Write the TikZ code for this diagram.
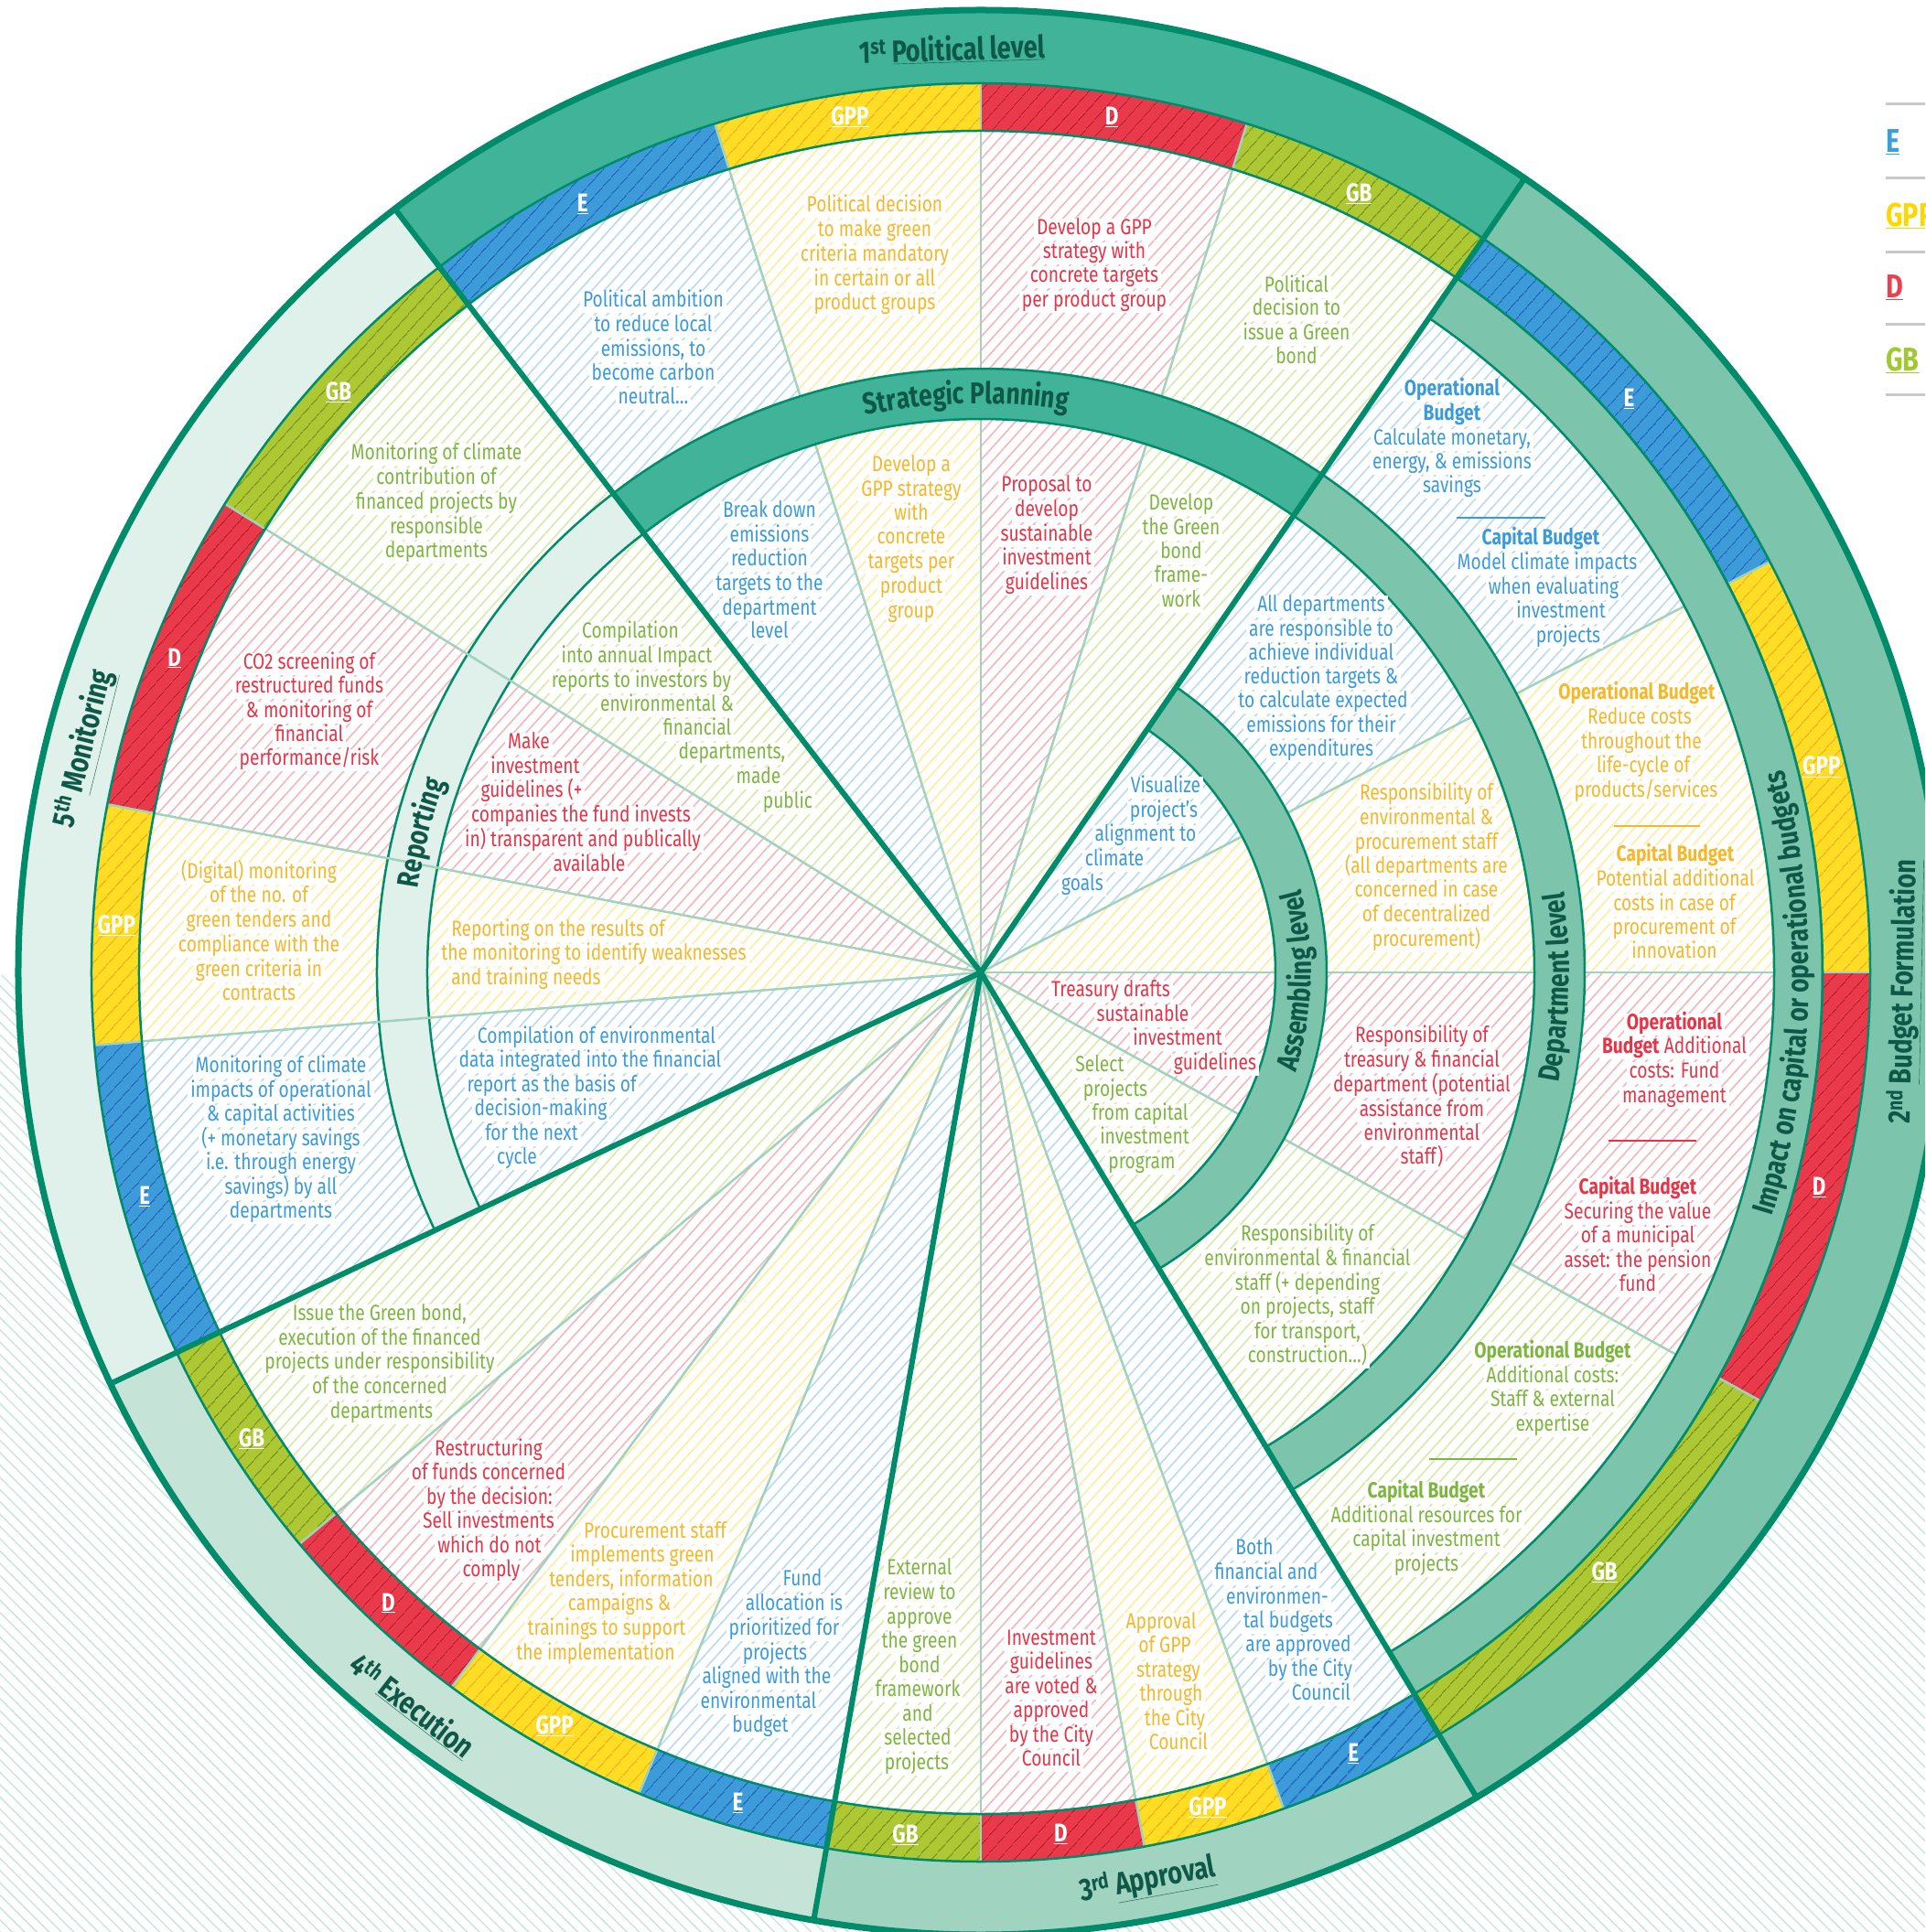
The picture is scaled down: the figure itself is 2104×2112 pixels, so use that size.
\documentclass[tikz,border=0pt]{standalone}
\usepackage{fontspec}
\setmainfont[FakeStretch=0.8]{Fira Sans}
\usetikzlibrary{patterns.meta,decorations.text}
\definecolor{tealdark}{RGB}{0,140,106}
\definecolor{titlec}{RGB}{14,88,72}
\definecolor{polband}{RGB}{64,179,152}
\definecolor{budband}{RGB}{124,196,171}
\definecolor{appband}{RGB}{160,211,192}
\definecolor{exeband}{RGB}{198,227,215}
\definecolor{monband}{RGB}{224,240,234}
\definecolor{thinl}{RGB}{160,210,190}
\definecolor{bgh}{RGB}{200,230,220}
\definecolor{ringE}{RGB}{61,155,217}
\definecolor{lineE}{RGB}{25,95,185}
\definecolor{ringG}{RGB}{255,221,36}
\definecolor{lineG}{RGB}{235,170,20}
\definecolor{ringD}{RGB}{232,58,74}
\definecolor{lineD}{RGB}{190,20,40}
\definecolor{ringB}{RGB}{173,200,50}
\definecolor{lineB}{RGB}{110,140,20}
\definecolor{hE}{RGB}{185,218,240}
\definecolor{hG}{RGB}{255,236,160}
\definecolor{hD}{RGB}{244,182,188}
\definecolor{hB}{RGB}{218,232,170}
\definecolor{tE}{RGB}{58,155,220}
\definecolor{tG}{RGB}{246,183,40}
\definecolor{tD}{RGB}{230,52,72}
\definecolor{tB}{RGB}{125,182,62}
\definecolor{lE}{RGB}{58,160,220}
\definecolor{lG}{RGB}{255,215,0}
\definecolor{lD}{RGB}{232,65,80}
\definecolor{lB}{RGB}{160,200,50}
\definecolor{legline}{RGB}{200,200,200}
\newcommand\annsec[4]{(#1:#3) arc[start angle=#1,end angle=#2,radius=#3] -- (#2:#4) arc[start angle=#2,end angle=#1,radius=#4] -- cycle}
\newcommand\wdg[2]{(0,0) -- (#1:920pt) arc[start angle=#1,end angle=#2,radius=920pt] -- cycle}
\newcommand\ringfnt{\fontsize{33}{33}\selectfont\bfseries}
\newcommand\arclabel[4]{\path[decorate,decoration={text along path,text align=center,text color=titlec,text={|\ringfnt|#4}}] (#2:#1) arc[start angle=#2,end angle=#3,radius=#1];}
\newcommand\blk[3]{\foreach[count=\i] \x/\y/\t in {#3} {\node[body,text=#2] (#1-\i) at (\x,\y) {\t};}}
\tikzset{
  body/.style={font=\fontsize{24}{26.5}\selectfont, fill=white, inner xsep=3pt, inner ysep=1.5pt, text height=16.5pt, text depth=5pt},
  ttl/.style={font=\fontsize{34}{36}\selectfont\bfseries, text=titlec, inner sep=0pt},
  seglbl/.style={font=\fontsize{28}{30}\selectfont\bfseries, text=white, inner sep=0pt},
  leg/.style={font=\fontsize{36}{38}\selectfont\bfseries, inner sep=0pt, anchor=west},
  subline/.style={draw=thinl, line width=2.5pt},
  stageline/.style={draw=tealdark, line width=6pt},
  ringline/.style={draw=tealdark, line width=2.5pt},
  lighthatch/.style={pattern={Lines[angle=48,distance=10pt,line width=1.6pt]}, pattern color=#1},
  darkhatch/.style={pattern={Lines[angle=48,distance=13pt,line width=1.4pt]}, pattern color=#1},
}
\begin{document}
\begin{tikzpicture}[x=1pt,y=1pt]
\useasboundingbox (-1072,-1049) rectangle (1032,1063);
\clip (-1072,-1049) rectangle (1032,1063);
% background hatch (lower half)
\fill[pattern={Lines[angle=-45,distance=9.5pt,line width=1.5pt]}, pattern color=bgh] (-1072,-1049) rectangle (1032,-3);
\fill[white] (0,0) circle[radius=1052pt];
% light hatched sub-sectors
\foreach \a/\b/\c in {55.6/72.6/hB, 72.6/90/hD, 90/107.4/hG, 107.4/127.5/hE,
  127.5/148.2/hB, 148.2/169.1/hD, 169.1/184.7/hG, 184.7/205.3/hE,
  205.3/220/hB, 220/233.5/hD, 233.5/247.4/hG, 247.4/260/hE,
  260/270/hB, 270/280.6/hD, 280.6/289.9/hG, 289.9/301/hE,
  -59/-28.8/hB, -28.8/0/hD, 0/27.5/hG, 27.5/55.6/hE}
  {\fill[lighthatch=\c] \wdg{\a}{\b};}
% reporting ring (lines cross it)
\path[fill=monband, ringline] \annsec{127.5}{205.3}{605pt}{660pt};
% thin sub-sector lines
\foreach \a in {72.6,90,107.4,148.2,169.1,184.7,220,233.5,247.4,270,280.6,289.9,-28.8,0,27.5}
  {\draw[subline] (0,0) -- (\a:920pt);}
% inner rings
\path[fill=polband, ringline] \annsec{55.6}{127.5}{605pt}{660pt};
\path[fill=budband, ringline] \annsec{-59}{55.6}{605pt}{660pt};
\path[fill=budband, ringline] \annsec{-59}{55.6}{322pt}{378pt};
\path[fill=budband, ringline] \annsec{-59}{55.6}{867pt}{920pt};
% colour ring
\foreach \a/\b/\f/\h in {55.6/72.6/ringB/lineB, 72.6/90/ringD/lineD, 90/107.4/ringG/lineG, 107.4/127.5/ringE/lineE,
  127.5/148.2/ringB/lineB, 148.2/169.1/ringD/lineD, 169.1/184.7/ringG/lineG, 184.7/205.3/ringE/lineE,
  205.3/220/ringB/lineB, 220/233.5/ringD/lineD, 233.5/247.4/ringG/lineG, 247.4/260/ringE/lineE,
  260/270/ringB/lineB, 270/280.6/ringD/lineD, 280.6/289.9/ringG/lineG, 289.9/301/ringE/lineE,
  -59/-28.8/ringB/lineB, -28.8/0/ringD/lineD, 0/27.5/ringG/lineG, 27.5/55.6/ringE/lineE}
  {\fill[\f] \annsec{\a}{\b}{920pt}{972pt};
   \fill[darkhatch=\h] \annsec{\a}{\b}{920pt}{972pt};}
\foreach \a in {72.6,90,107.4,148.2,169.1,184.7,220,233.5,247.4,270,280.6,289.9,-28.8,0,27.5}
  {\draw[subline] (\a:920pt) -- (\a:972pt);}
% stage bands
\foreach \a/\b/\f in {55.6/127.5/polband, 127.5/205.3/monband, 205.3/260/exeband, 260/301/appband, -59/55.6/budband}
  {\fill[\f] \annsec{\a}{\b}{972pt}{1052pt};}
\draw[ringline] (0,0) circle[radius=920pt];
\draw[ringline] (0,0) circle[radius=972pt];
% stage boundaries
\foreach \a in {55.6,127.5,205.3,260,301}
  {\draw[stageline] (0,0) -- (\a:1052pt);}
\draw[tealdark, line width=7pt] (0,0) circle[radius=1052pt];
% colour ring labels
\foreach[count=\i] \a/\t in {64.1/GB, 81.3/D, 98.7/GPP, 117.4/E,
  137.9/GB, 158.7/D, 176.9/GPP, 195/E,
  212.6/GB, 226.8/D, 240.5/GPP, 253.7/E,
  265/GB, 275.3/D, 285.2/GPP, 295.5/E,
  -43.9/GB, -14.4/D, 13.75/GPP, 41.5/E}
  {\node[seglbl] (seg-\i) at (\a:946pt) {\underline{\t}};}
% ring labels along arcs
\arclabel{622pt}{121.5}{61.5}{Strategic Planning}
\arclabel{622pt}{192}{140}{Reporting}
\arclabel{361pt}{-42}{39}{Assembling level}
\arclabel{643pt}{-42}{39}{Department level}
\arclabel{905pt}{-42}{39}{Impact on capital or operational budgets}
% stage titles
\node[ttl, rotate=1.8] (t1) at (91.8:1010pt) {1\textsuperscript{st} \underline{Political level}};
\node[ttl, rotate=88.8] (t2) at (-1.2:1010pt) {2\textsuperscript{nd} \underline{Budget Formulation}};
\node[ttl, rotate=10.4] (t3) at (-79.6:1010pt) {3\textsuperscript{rd} \underline{Approval}};
\node[ttl, rotate=-37.8] (t4) at (232.2:1014pt) {4\textsuperscript{th} \underline{Execution}};
\node[ttl, rotate=76] (t5) at (166:1010pt) {5\textsuperscript{th} \underline{Monitoring}};
% texts (image coordinates)
\begin{scope}[shift={(-1072pt,1063pt)},yscale=-1]
\blk{p1}{tE}{714/330/{Political ambition}, 714/357/{to reduce local}, 714/384/{emissions, to}, 714/410/{become carbon}, 714/436/{neutral…}}
\blk{p2}{tG}{956/226/{Political decision}, 956/253/{to make green}, 956/280/{criteria mandatory}, 956/307/{in certain or all}, 956/333/{product groups}}
\blk{p3}{tD}{1196/251/{Develop a GPP}, 1196/277/{strategy with}, 1196/303/{concrete targets}, 1196/330/{per product group}}
\blk{p4}{tB}{1417/314/{Political}, 1417/339/{decision to}, 1417/366/{issue a Green}, 1417/392/{bond}}
\blk{s1}{tE}{841/560/{Break down}, 841/587/{emissions}, 841/613/{reduction}, 841/640/{targets to the}, 841/667/{department}, 841/692/{level}}
\blk{s2}{tG}{996/510/{Develop a}, 996/537/{GPP strategy}, 996/563/{with}, 996/589/{concrete}, 996/616/{targets per}, 996/643/{product}, 996/670/{group}}
\blk{s3}{tD}{1144/532/{Proposal to}, 1144/559/{develop}, 1144/586/{sustainable}, 1144/612/{investment}, 1144/639/{guidelines}}
\blk{s4}{tB}{1291/552/{Develop}, 1291/579/{the Green}, 1291/605/{bond}, 1291/631/{frame-}, 1291/658/{work}}
\blk{m1}{tB}{477/497/{Monitoring of climate}, 477/524/{contribution of}, 477/551/{financed projects by}, 477/578/{responsible}, 477/604/{departments}}
\blk{m2}{tD}{338/726/{CO2 screening of}, 338/752/{restructured funds}, 338/779/{\& monitoring of}, 338/805/{financial}, 338/831/{performance/risk}}
\blk{m3}{tG}{283/955/{(Digital) monitoring}, 283/981/{of the no. of}, 283/1008/{green tenders and}, 283/1035/{compliance with the}, 283/1062/{green criteria in}, 283/1088/{contracts}}
\blk{m4}{tE}{307/1167/{Monitoring of climate}, 307/1194/{impacts of operational}, 307/1220/{\& capital activities}, 307/1247/{(+ monetary savings}, 307/1273/{i.e. through energy}, 307/1300/{savings) by all}, 307/1326/{departments}}
\blk{r1}{tB}{689/692/{Compilation}, 696/719/{into annual Impact}, 701/746/{reports to investors by}, 729/772/{environmental \&}, 762/798/{financial}, 800/824/{departments,}, 829/851/{made}, 861/878/{public}}
\blk{r2}{tD}{578/813/{Make}, 585/840/{investment}, 581/866/{guidelines (+}, 635/893/{companies the fund invests}, 637/920/{in) transparent and publically}, 644/947/{available}}
\blk{r3}{tG}{610/1018/{Reporting on the results of}, 649/1044/{the monitoring to identify weaknesses}, 575/1071/{and training needs}}
\blk{r4}{tE}{652/1135/{Compilation of environmental}, 645/1161/{data integrated into the financial}, 603/1188/{report as the basis of}, 591/1214/{decision-making}, 581/1241/{for the next}, 565/1267/{cycle}}
\blk{e1}{tB}{415/1438/{Issue the Green bond,}, 415/1465/{execution of the financed}, 415/1491/{projects under responsibility}, 415/1518/{of the concerned}, 417/1545/{departments}}
\blk{e2}{tD}{534/1586/{Restructuring}, 534/1612/{of funds concerned}, 535/1639/{by the decision:}, 534/1665/{Sell investments}, 535/1692/{which do not}, 537/1718/{comply}}
\blk{e3}{tG}{716/1676/{Procurement staff}, 702/1702/{implements green}, 690/1729/{tenders, information}, 677/1755/{campaigns \&}, 663/1782/{trainings to support}, 651/1809/{the implementation}}
\blk{e4}{tE}{877/1728/{Fund}, 868/1755/{allocation is}, 857/1782/{prioritized for}, 847/1809/{projects}, 838/1835/{aligned with the}, 829/1862/{environmental}, 831/1888/{budget}}
\blk{e5}{tB}{1005/1716/{External}, 1005/1743/{review to}, 1005/1770/{approve}, 1005/1796/{the green}, 1005/1823/{bond}, 1003/1849/{framework}, 1003/1876/{and}, 1003/1902/{selected}, 1002/1929/{projects}}
\blk{a1}{tD}{1149/1793/{Investment}, 1149/1819/{guidelines}, 1149/1846/{are voted \&}, 1149/1872/{approved}, 1149/1899/{by the City}, 1149/1925/{Council}}
\blk{a2}{tG}{1269/1775/{Approval}, 1273/1801/{of GPP}, 1277/1828/{strategy}, 1280/1854/{through}, 1284/1881/{the City}, 1288/1907/{Council}}
\blk{a3}{tE}{1371/1694/{Both}, 1384/1721/{financial and}, 1396/1748/{environmen-}, 1408/1774/{tal budgets}, 1419/1800/{are approved}, 1432/1827/{by the City}, 1444/1853/{Council}}
\blk{b1}{tE}{1587/427/{\textbf{Operational}}, 1587/454/{\textbf{Budget}}, 1587/481/{Calculate monetary,}, 1587/507/{energy, \& emissions}, 1587/533/{savings}}
\blk{b2}{tE}{1684/590/{\textbf{Capital Budget}}, 1691/617/{Model climate impacts}, 1698/644/{when evaluating}, 1706/670/{investment}, 1714/697/{projects}}
\blk{b3}{tG}{1789/759/{\textbf{Operational Budget}}, 1792/786/{Reduce costs}, 1794/813/{throughout the}, 1796/839/{life-cycle of}, 1799/866/{products/services}}
\blk{b4}{tG}{1831/936/{\textbf{Capital Budget}}, 1831/963/{Potential additional}, 1830/990/{costs in case of}, 1830/1016/{procurement of}, 1830/1042/{innovation}}
\blk{b5}{tD}{1830/1120/{\textbf{Operational}}, 1830/1146/{\textbf{Budget} Additional}, 1830/1173/{costs: Fund}, 1830/1200/{management}}
\blk{b6}{tD}{1790/1300/{\textbf{Capital Budget}}, 1790/1327/{Securing the value}, 1790/1353/{of a municipal}, 1790/1380/{asset: the pension}, 1790/1406/{fund}}
\blk{b7}{tB}{1697/1479/{\textbf{Operational Budget}}, 1697/1506/{Additional costs:}, 1697/1532/{Staff \& external}, 1697/1559/{expertise}}
\blk{b8}{tB}{1559/1632/{\textbf{Capital Budget}}, 1559/1659/{Additional resources for}, 1559/1685/{capital investment}, 1559/1712/{projects}}
\blk{d1}{tE}{1444/663/{All departments}, 1444/690/{are responsible to}, 1444/716/{achieve individual}, 1444/742/{reduction targets \&}, 1446/768/{to calculate expected}, 1444/795/{emissions for their}, 1444/821/{expenditures}}
\blk{d2}{tG}{1559/869/{Responsibility of}, 1559/896/{environmental \&}, 1559/923/{procurement staff}, 1559/949/{(all departments are}, 1559/975/{concerned in case}, 1559/1002/{of decentralized}, 1559/1029/{procurement)}}
\blk{d3}{tD}{1554/1134/{Responsibility of}, 1554/1161/{treasury \& financial}, 1554/1188/{department (potential}, 1554/1215/{assistance from}, 1554/1241/{environmental}, 1554/1267/{staff)}}
\blk{d4}{tB}{1429/1351/{Responsibility of}, 1429/1378/{environmental \& financial}, 1429/1405/{staff (+ depending}, 1429/1431/{on projects, staff}, 1429/1458/{for transport,}, 1429/1484/{construction…)}}
\blk{v1}{tE}{1274/861/{Visualize}, 1272/888/{project’s}, 1252/914/{alignment to}, 1218/941/{climate}, 1183/968/{goals}}
\blk{v2}{tD}{1214/1084/{Treasury drafts}, 1249/1111/{sustainable}, 1287/1137/{investment}, 1328/1164/{guidelines}}
\blk{v3}{tB}{1202/1166/{Select}, 1219/1193/{projects}, 1246/1219/{from capital}, 1251/1245/{investment}, 1248/1272/{program}}
% separators in budget texts
\draw[tE, line width=1.5pt] (1592,566) -- (1689,566);
\draw[tG, line width=1.5pt] (1764,903) -- (1858,903);
\draw[tD, line width=1.5pt] (1758,1247) -- (1854,1247);
\draw[tB, line width=1.5pt] (1562,1595) -- (1658,1595);
% legend
\foreach \y in {114,195,276,355,432} {\draw[legline, line width=3pt] (2061,\y) -- (2110,\y);}
\node[leg, text=lE] (legE) at (2061,155) {\underline{E}};
\node[leg, text=lG] (legG) at (2061,236) {\underline{GPP}};
\node[leg, text=lD] (legD) at (2061,314) {\underline{D}};
\node[leg, text=lB] (legB) at (2061,394) {\underline{GB}};
\end{scope}
\end{tikzpicture}
\end{document}
